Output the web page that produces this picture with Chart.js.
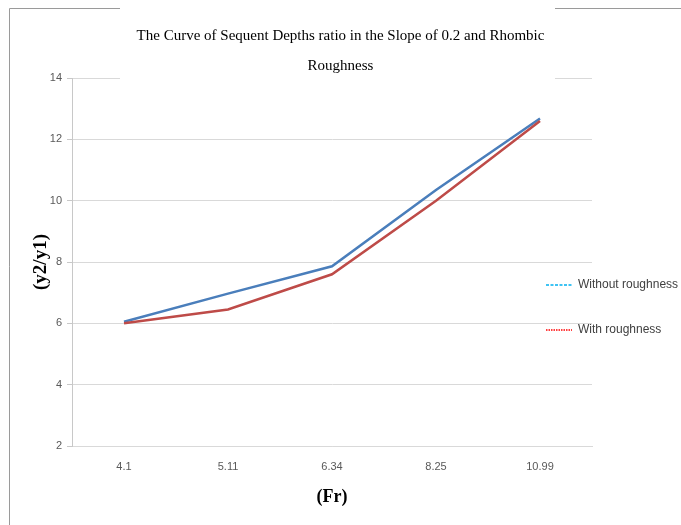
<!DOCTYPE html>
<html>
<head>
<meta charset="utf-8">
<script src="https://cdn.jsdelivr.net/npm/chart.js@4.4.1/dist/chart.umd.min.js"></script>
<style>
  html, body { margin: 0; padding: 0; background: #fff; }
  canvas { display: block; }
</style>
</head>
<body>
<canvas id="depth-chart" width="681" height="525"></canvas>
<script>
// Froude numbers on the x axis
var froude = ['4.1', '5.11', '6.34', '8.25', '10.99'];

// y2/y1
var withoutRoughness = [6.05, 6.97, 7.86, 10.35, 12.68];
var withRoughness = [6.0, 6.45, 7.6, 10.0, 12.6];

var seriesNames = ['Without roughness', 'With roughness'];
var yTicks = [2, 4, 6, 8, 10, 12, 14];

// legend samples are drawn in other colours than the lines, like the original
var legendColors = ['#00b0f0', '#ff0000'];
var legendDash = [[3, 1.5], [1.5, 1]];

// frame + the white box behind the title
var frame = {
    id: 'frame',
    beforeDraw: function (chart) {
        var ctx = chart.ctx;
        ctx.save();
        ctx.strokeStyle = '#9a9a9a';
        ctx.lineWidth = 1;
        ctx.beginPath();
        ctx.moveTo(9.5, 525);
        ctx.lineTo(9.5, 8.5);
        ctx.lineTo(120, 8.5);
        ctx.moveTo(555, 8.5);
        ctx.lineTo(681, 8.5);
        ctx.stroke();
        ctx.restore();
    },
    beforeDatasetsDraw: function (chart) {
        var ctx = chart.ctx;
        ctx.save();
        ctx.fillStyle = '#fff';
        ctx.fillRect(120, chart.chartArea.top - 3, 435, 6);
        ctx.restore();
    },
    afterLayout: function (chart) {
        // legend sits over the right end of the plot
        var lg = chart.legend;
        lg.left = 513;
        lg.right = 681;
        lg.top = 246;
        lg.bottom = 525;
    }
};

var ctx = document.getElementById('depth-chart').getContext('2d');
var chart = new Chart(ctx, {
    type: 'line',
    data: {
        labels: froude,
        datasets: [
            {
                label: seriesNames[0],
                data: withoutRoughness,
                borderColor: '#4a7ebb',
                borderWidth: 2.5,
                pointRadius: 0,
                fill: false,
                order: 1
            },
            {
                label: seriesNames[1],
                data: withRoughness,
                borderColor: '#be4b48',
                borderWidth: 2.5,
                pointRadius: 0,
                fill: false,
                order: 0
            }
        ]
    },
    options: {
        responsive: false,
        animation: false,
        layout: { padding: 0 },
        plugins: {
            tooltip: { enabled: false },
            title: {
                display: true,
                text: ['The Curve of Sequent Depths ratio in the Slope of 0.2 and Rhombic', 'Roughness'],
                color: '#000',
                font: { family: 'Liberation Serif', size: 15, weight: 'normal', lineHeight: 2 },
                padding: { top: 21, bottom: -3 }
            },
            legend: {
                position: 'right',
                align: 'start',
                maxWidth: 89,
                labels: {
                    usePointStyle: true,
                    pointStyle: 'line',
                    pointStyleWidth: 26,
                    padding: 33,
                    color: '#404040',
                    font: { family: 'Liberation Sans', size: 12 },
                    generateLabels: function (chart) {
                        return chart.data.datasets.map(function (ds, i) {
                            return {
                                text: ds.label,
                                fillStyle: legendColors[i],
                                strokeStyle: legendColors[i],
                                lineWidth: 1.5,
                                lineDash: legendDash[i],
                                pointStyle: 'line',
                                fontColor: '#404040',
                                datasetIndex: i
                            };
                        });
                    }
                }
            }
        },
        scales: {
            x: {
                offset: true,
                grid: { display: false, drawTicks: false },
                border: { display: true, color: '#d9d9d9' },
                ticks: {
                    padding: 14,
                    color: '#595959',
                    font: { family: 'Liberation Sans', size: 11 }
                },
                title: {
                    display: true,
                    text: '(Fr)',
                    color: '#000',
                    font: { family: 'Liberation Serif', size: 18, weight: 'bold' },
                    padding: { top: 0, bottom: 17 }
                },
                afterFit: function (scale) { scale.height = 79; }
            },
            y: {
                min: 2,
                max: 14,
                afterBuildTicks: function (scale) {
                    scale.ticks = yTicks.map(function (v) { return { value: v }; });
                },
                grid: { color: '#d9d9d9', tickLength: 5, tickColor: '#c8c8c8' },
                border: { color: '#c8c8c8' },
                ticks: {
                    padding: 5,
                    color: '#595959',
                    font: { family: 'Liberation Sans', size: 11 }
                },
                title: {
                    display: true,
                    text: '(y2/y1)',
                    color: '#000',
                    font: { family: 'Liberation Serif', size: 19, weight: 'bold' },
                    padding: { top: 30, bottom: 0 }
                },
                afterFit: function (scale) { scale.width = 72; }
            }
        }
    },
    plugins: [frame]
});
</script>
</body>
</html>
